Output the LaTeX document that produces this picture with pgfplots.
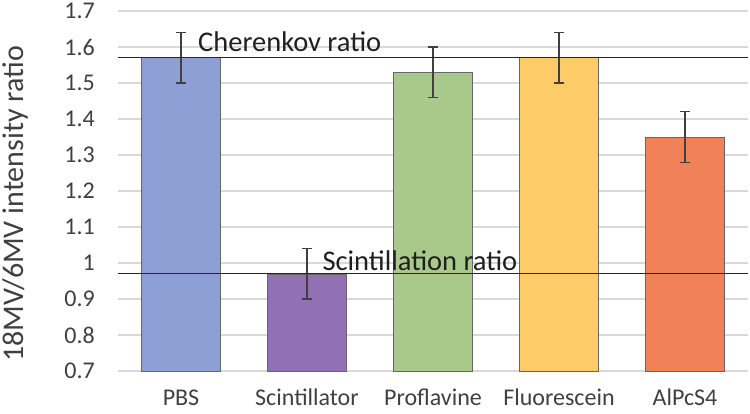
\documentclass[border=0pt]{standalone}
\usepackage{pgfplots}
\pgfplotsset{compat=1.18}
\usepackage{fontspec}
\setmainfont{Carlito}
\definecolor{cPBS}{HTML}{8E9FD5}
\definecolor{cSci}{HTML}{9270B5}
\definecolor{cPro}{HTML}{A8C98A}
\definecolor{cFlu}{HTML}{FDCB67}
\definecolor{cAl}{HTML}{F08158}
\definecolor{gridc}{HTML}{D9D9D9}
\definecolor{txt}{HTML}{404040}
\pgfplotsset{
  errbar/.style={ybar, draw=gray!80!black, line width=0.6bp,
    error bars/.cd, y dir=both, y explicit,
    error bar style={line width=1.2bp, draw=txt},
    error mark options={rotate=90, mark size=5bp, line width=1.2bp, draw=txt},
    /pgfplots/.cd},
}
\begin{document}
\begin{tikzpicture}[x=1bp,y=1bp]
\useasboundingbox (0,0) rectangle (750,413);
\begin{axis}[
  at={(118bp,42bp)}, anchor=south west,
  scale only axis, width=630bp, height=360bp,
  xmin=-0.5, xmax=4.5, ymin=0.7, ymax=1.7,
  axis line style={draw=none},
  ytick={0.7,0.8,...,1.71},
  yticklabels={0.7,0.8,0.9,1,1.1,1.2,1.3,1.4,1.5,1.6,1.7},
  xtick={0,1,2,3,4},
  xticklabels={PBS,Scintillator,Proflavine,Fluorescein,AlPcS4},
  /pgf/number format/assume math mode=true,
  major tick length=0pt,
  ymajorgrids, grid style={gridc, line width=1.2bp},
  yticklabel style={font=\fontsize{24bp}{26bp}\selectfont, text=txt, anchor=east, inner sep=0pt, xshift=-23bp},
  xticklabel style={font=\fontsize{24bp}{26bp}\selectfont, text=txt, anchor=base, inner sep=0pt, yshift=-34bp},
  ylabel={18MV/6MV intensity ratio},
  ylabel style={font=\fontsize{30bp}{32bp}\selectfont, text=txt, at={(axis description cs:-0.163,0.464)}, anchor=center, inner sep=0pt},
  bar width=79bp,
  clip=false,
]
\addplot[fill=cPBS, errbar] coordinates {(0,1.57) +- (0,0.07)};
\addplot[fill=cSci, errbar] coordinates {(1,0.97) +- (0,0.07)};
\addplot[fill=cPro, errbar] coordinates {(2,1.53) +- (0,0.07)};
\addplot[fill=cFlu, errbar] coordinates {(3,1.57) +- (0,0.07)};
\addplot[fill=cAl, errbar] coordinates {(4,1.35) +- (0,0.07)};
\addplot[black!85, line width=1bp] coordinates {(-0.5,1.57) (4.5,1.57)};
\addplot[black!85, line width=1bp] coordinates {(-0.5,0.97) (4.5,0.97)};
\node[anchor=base west, inner sep=0pt, font=\fontsize{28.5bp}{30bp}\selectfont, text=black!88] at (axis cs:0.135,1.587) {Cherenkov ratio};
\node[anchor=base west, inner sep=0pt, font=\fontsize{28.5bp}{30bp}\selectfont, text=black!88] at (axis cs:1.122,0.978) {Scintillation ratio};
\end{axis}
\end{tikzpicture}
\end{document}
